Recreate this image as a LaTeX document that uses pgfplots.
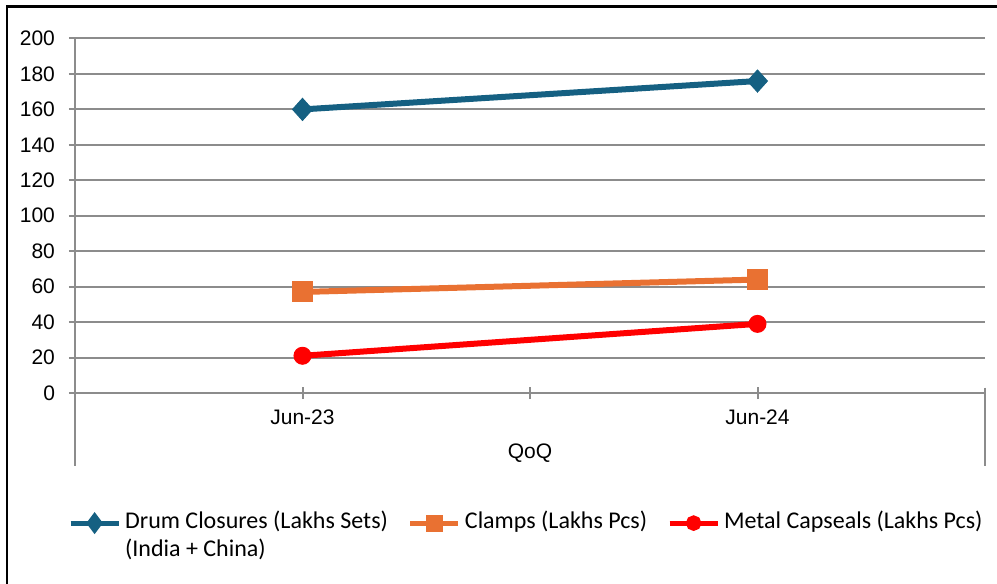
\documentclass[border=0pt]{standalone}
\usepackage{fontspec}
\setmainfont{Liberation Sans}
\newfontfamily\legfont{Carlito}
\usepackage{pgfplots}
\pgfplotsset{compat=1.18}
\definecolor{cDrum}{HTML}{156082}
\definecolor{cClamp}{HTML}{E97132}
\definecolor{cCap}{HTML}{FF0000}
\definecolor{cGrid}{HTML}{8C8C8C}

\begin{document}
\begin{tikzpicture}
\useasboundingbox (0,0) rectangle (498.5pt,292pt);
% chart frame (top and left edges)
\draw[line width=1.25pt] (3.5pt,0pt) -- (3.5pt,288.85pt) -- (498.5pt,288.85pt);
\begin{axis}[
  at={(37.5pt,95.5pt)}, anchor=south west,
  scale only axis, width=455pt, height=177.25pt,
  xmin=-0.5, xmax=1.5, ymin=0, ymax=200,
  xtick={0,0.5,1}, xticklabels={Jun-23,,Jun-24},
  ytick={0,20,...,200},
  axis x line=bottom, axis y line=left,
  axis line style={-, cGrid, line width=1pt},
  ymajorgrids, grid style={cGrid, line width=1pt},
  tick align=center, major tick length=6pt,
  major tick style={cGrid, line width=1pt},
  /pgf/number format/assume math mode=true,
  tick label style={font=\fontsize{10.5}{12}\selectfont},
  yticklabel style={xshift=-3.5pt},
  xticklabel style={yshift=-2pt},
  xlabel={QoQ},
  xlabel style={at={(rel axis cs:0.5,0)}, anchor=center, yshift=-30pt,
                font=\fontsize{10.5}{12}\selectfont},
  clip=false,
  legend columns=3,
  legend style={at={(-0.008,-0.32)}, anchor=north west, draw=none,
    font=\legfont\fontsize{12}{14}\selectfont,
    inner sep=0pt,
    cells={anchor=mid west, inner xsep=0pt},
    /tikz/every even column/.append style={column sep=8pt}},
  legend image code/.code={
    \draw[#1, mark=none, line width=2.5pt] (0pt,0pt) -- (24pt,0pt);
    \draw[#1, only marks, mark options={scale=0.55}] plot coordinates {(12pt,0pt)};
  },
]
\addplot[cDrum, line width=3pt, mark=diamond*, mark size=5.5pt,
  mark options={solid, line width=0.5pt, xscale=1.2}]
  coordinates {(0,160) (1,176)};
\addlegendentry{\vtop{\hbox{Drum Closures (Lakhs Sets)}\hbox{(India + China)}}}
\addplot[cClamp, line width=3pt, mark=square*, mark size=5pt,
  mark options={solid, line width=0.5pt}]
  coordinates {(0,57) (1,64)};
\addlegendentry{Clamps (Lakhs Pcs)}
\addplot[cCap, line width=3pt, mark=*, mark size=4.25pt,
  mark options={solid, line width=0.5pt}]
  coordinates {(0,21) (1,39)};
\addlegendentry{Metal Capseals (Lakhs Pcs)}
% category boundary lines of the axis
\draw[cGrid, line width=1pt] (rel axis cs:0,0) -- (rel axis cs:0,-0.206);
\draw[cGrid, line width=1pt] (rel axis cs:1,0.0155) -- (rel axis cs:1,-0.206);
\end{axis}
\end{tikzpicture}
\end{document}
